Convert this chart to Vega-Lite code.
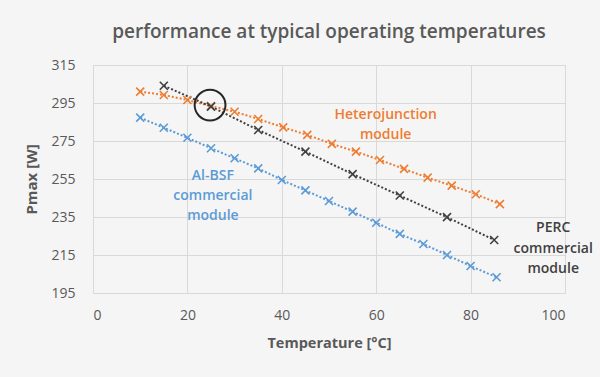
{
  "$schema": "https://vega.github.io/schema/vega-lite/v6.json",
  "width": 472,
  "height": 228,
  "autosize": "none",
  "padding": {"left": 93, "top": 65, "right": 35, "bottom": 84},
  "background": "#f5f5f5",
  "title": {
    "text": "performance at typical operating temperatures",
    "anchor": "middle",
    "frame": "group",
    "fontSize": 19,
    "font": "Open Sans",
    "fontWeight": 600,
    "color": "#595959",
    "offset": 16
  },
  "config": {
    "view": {"stroke": "#d9d9d9", "fill": "#f5f5f5"},
    "font": "Open Sans"
  },
  "datasets": {
    "series": [
      {"module": "Heterojunction", "temp": 10, "pmax": 301.0},
      {"module": "Heterojunction", "temp": 15, "pmax": 299.2},
      {"module": "Heterojunction", "temp": 20, "pmax": 296.6},
      {"module": "Heterojunction", "temp": 25, "pmax": 293.4},
      {"module": "Heterojunction", "temp": 30, "pmax": 290.4},
      {"module": "Heterojunction", "temp": 35, "pmax": 286.6},
      {"module": "Heterojunction", "temp": 40.3, "pmax": 282.2},
      {"module": "Heterojunction", "temp": 45.4, "pmax": 278.2},
      {"module": "Heterojunction", "temp": 50.6, "pmax": 273.5},
      {"module": "Heterojunction", "temp": 55.7, "pmax": 269.4},
      {"module": "Heterojunction", "temp": 60.8, "pmax": 265.0},
      {"module": "Heterojunction", "temp": 65.9, "pmax": 260.3},
      {"module": "Heterojunction", "temp": 70.9, "pmax": 255.7},
      {"module": "Heterojunction", "temp": 76.0, "pmax": 251.5},
      {"module": "Heterojunction", "temp": 81.1, "pmax": 247.0},
      {"module": "Heterojunction", "temp": 86.2, "pmax": 241.8},
      {"module": "PERC", "temp": 15, "pmax": 304.1},
      {"module": "PERC", "temp": 25, "pmax": 293.1},
      {"module": "PERC", "temp": 35, "pmax": 280.8},
      {"module": "PERC", "temp": 45, "pmax": 269.4},
      {"module": "PERC", "temp": 55, "pmax": 257.6},
      {"module": "PERC", "temp": 65, "pmax": 246.3},
      {"module": "PERC", "temp": 75, "pmax": 234.9},
      {"module": "PERC", "temp": 85, "pmax": 222.9},
      {"module": "Al-BSF", "temp": 10, "pmax": 287.3},
      {"module": "Al-BSF", "temp": 15, "pmax": 282.0},
      {"module": "Al-BSF", "temp": 20, "pmax": 276.7},
      {"module": "Al-BSF", "temp": 25, "pmax": 271.2},
      {"module": "Al-BSF", "temp": 30, "pmax": 265.9},
      {"module": "Al-BSF", "temp": 35, "pmax": 260.6},
      {"module": "Al-BSF", "temp": 40, "pmax": 254.5},
      {"module": "Al-BSF", "temp": 45, "pmax": 249.0},
      {"module": "Al-BSF", "temp": 50, "pmax": 243.4},
      {"module": "Al-BSF", "temp": 55, "pmax": 237.8},
      {"module": "Al-BSF", "temp": 60, "pmax": 232.0},
      {"module": "Al-BSF", "temp": 65, "pmax": 226.1},
      {"module": "Al-BSF", "temp": 70, "pmax": 220.8},
      {"module": "Al-BSF", "temp": 75, "pmax": 215.0},
      {"module": "Al-BSF", "temp": 80, "pmax": 209.2},
      {"module": "Al-BSF", "temp": 85.5, "pmax": 203.3}
    ],
    "labels": [
      {"module": "Heterojunction", "temp": 62, "pmax": 288.7, "label": "Heterojunction"},
      {"module": "Heterojunction", "temp": 62, "pmax": 278.2, "label": "module"},
      {"module": "Al-BSF", "temp": 25.4, "pmax": 256.6, "label": "Al-BSF"},
      {"module": "Al-BSF", "temp": 25.4, "pmax": 246.1, "label": "commercial"},
      {"module": "Al-BSF", "temp": 25.4, "pmax": 235.5, "label": "module"},
      {"module": "PERC", "temp": 97.5, "pmax": 229.2, "label": "PERC"},
      {"module": "PERC", "temp": 97.5, "pmax": 218.2, "label": "commercial"},
      {"module": "PERC", "temp": 97.5, "pmax": 207.6, "label": "module"}
    ],
    "highlight": [
      {"temp": 24.8, "pmax": 293.9}
    ]
  },
  "encoding": {
    "x": {
      "field": "temp",
      "type": "quantitative",
      "scale": {"domain": [0, 100], "nice": false, "zero": false},
      "axis": {
        "values": [0, 20, 40, 60, 80, 100],
        "title": "Temperature [°C]",
        "titleFontSize": 14.5,
        "titleFontWeight": "bold",
        "titleColor": "#595959",
        "titlePadding": 14,
        "labelFontSize": 14,
        "labelColor": "#595959",
        "labelPadding": 15,
        "tickSize": 0,
        "domain": false,
        "gridColor": "#d9d9d9",
        "labelFont": "Open Sans",
        "titleFont": "Open Sans"
      }
    },
    "y": {
      "field": "pmax",
      "type": "quantitative",
      "scale": {"domain": [195, 315], "nice": false, "zero": false},
      "axis": {
        "values": [195, 215, 235, 255, 275, 295, 315],
        "title": "Pmax [W]",
        "titleFontSize": 15,
        "titleFontWeight": "bold",
        "titleColor": "#595959",
        "titlePadding": 11,
        "labelFontSize": 14,
        "labelColor": "#595959",
        "labelPadding": 18,
        "tickSize": 0,
        "domain": false,
        "gridColor": "#d9d9d9",
        "labelFont": "Open Sans",
        "titleFont": "Open Sans"
      }
    }
  },
  "layer": [
    {
      "data": {"name": "series"},
      "mark": {"type": "line", "strokeDash": [2, 2], "strokeWidth": 2},
      "encoding": {
        "color": {
          "field": "module",
          "type": "nominal",
          "scale": {"domain": ["Heterojunction", "PERC", "Al-BSF"], "range": ["#ED7D31", "#404040", "#5B9BD5"]},
          "legend": null
        },
        "detail": {"field": "module"}
      }
    },
    {
      "data": {"name": "series"},
      "mark": {"type": "point", "shape": "M-1,-1L1,1M-1,1L1,-1", "filled": false, "size": 64, "strokeWidth": 1.6, "opacity": 1},
      "encoding": {
        "color": {
          "field": "module",
          "type": "nominal",
          "scale": {"domain": ["Heterojunction", "PERC", "Al-BSF"], "range": ["#ED7D31", "#404040", "#5B9BD5"]},
          "legend": null
        }
      }
    },
    {
      "data": {"name": "labels"},
      "mark": {"type": "text", "fontSize": 14, "fontWeight": 600, "font": "Open Sans", "align": "center", "baseline": "middle"},
      "encoding": {
        "text": {"field": "label"},
        "color": {
          "field": "module",
          "type": "nominal",
          "scale": {"domain": ["Heterojunction", "PERC", "Al-BSF"], "range": ["#ED7D31", "#595959", "#5B9BD5"]},
          "legend": null
        }
      }
    },
    {
      "data": {"name": "highlight"},
      "mark": {"type": "point", "shape": "circle", "filled": false, "size": 950, "strokeWidth": 2, "color": "#262626", "opacity": 1}
    }
  ]
}
